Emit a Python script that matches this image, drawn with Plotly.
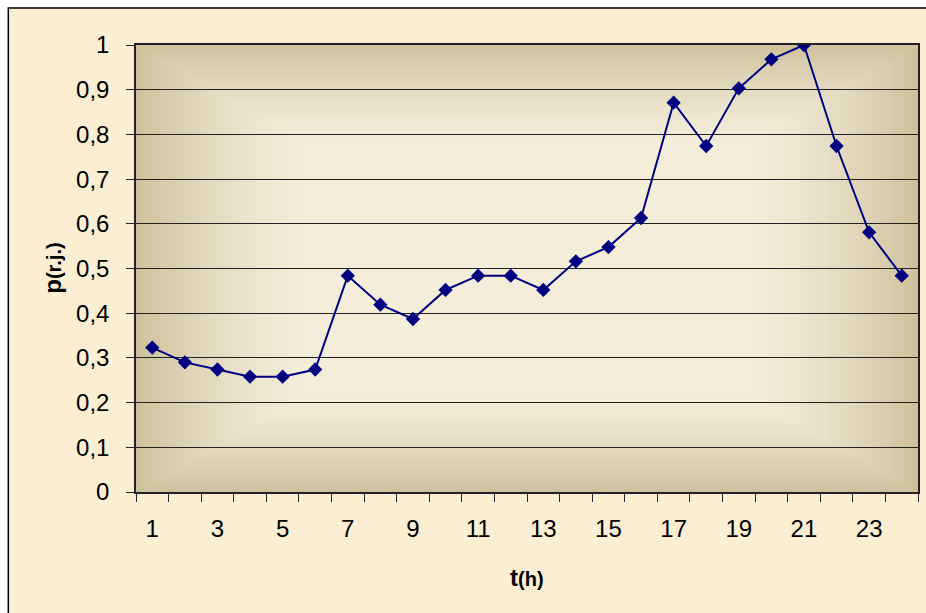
import base64
import struct
import zlib

import numpy as np
import plotly.graph_objects as go

# Hourly values p(r.j.) over the day
hours = list(range(1, 25))
p_values = [0.323, 0.290, 0.274, 0.258, 0.258, 0.274, 0.484, 0.419,
            0.387, 0.452, 0.484, 0.484, 0.452, 0.516, 0.548, 0.613,
            0.871, 0.774, 0.903, 0.968, 1.000, 0.774, 0.581, 0.484]

y_tick_vals = [0, 0.1, 0.2, 0.3, 0.4, 0.5, 0.6, 0.7, 0.8, 0.9, 1.0]
y_tick_text = ["0", "0,1", "0,2", "0,3", "0,4", "0,5", "0,6", "0,7", "0,8", "0,9", "1"]
x_tick_vals = [1, 3, 5, 7, 9, 11, 13, 15, 17, 19, 21, 23]
x_tick_text = [str(v) for v in x_tick_vals]
x_boundaries = [h - 0.5 for h in hours] + [24.5]

W, H = 926, 613
ML, MR, MT, MB = 136, 6, 45, 121
PW, PH = W - ML - MR, H - MT - MB

FONT = "Liberation Sans, Arial, sans-serif"
NAVY = "#000080"


def center_gradient_png(w, h, center, edge):
    """Rectangular 'from centre' fill: light middle fading to tan edges."""
    xs = (np.arange(w) + 0.5) / w * 2 - 1
    ys = (np.arange(h) + 0.5) / h * 2 - 1
    t = np.maximum(np.abs(xs)[None, :], np.abs(ys)[:, None])
    s = np.clip((t - 0.55) / 0.45, 0, 1) ** 1.5
    c = np.array(center, float)
    e = np.array(edge, float)
    img = (c + (e - c) * s[..., None]).round().astype(np.uint8)
    raw = b"".join(b"\x00" + img[r].tobytes() for r in range(h))

    def chunk(tag, data):
        return (struct.pack(">I", len(data)) + tag + data
                + struct.pack(">I", zlib.crc32(tag + data) & 0xFFFFFFFF))

    png = (b"\x89PNG\r\n\x1a\n"
           + chunk(b"IHDR", struct.pack(">IIBBBBB", w, h, 8, 2, 0, 0, 0))
           + chunk(b"IDAT", zlib.compress(raw, 9))
           + chunk(b"IEND", b""))
    return "data:image/png;base64," + base64.b64encode(png).decode()


def px_x(px):
    return (px - ML) / PW


def px_y(py):
    return (H - MB - py) / PH


fig = go.Figure()
fig.add_trace(go.Scatter(
    x=hours, y=p_values, mode="lines+markers",
    line=dict(color=NAVY, width=2),
    marker=dict(symbol="diamond", size=11, color=NAVY),
    hoverinfo="x+y", showlegend=False,
))

fig.update_layout(
    width=W, height=H,
    margin=dict(l=ML, r=MR, t=MT, b=MB, pad=0),
    paper_bgcolor="white",
    plot_bgcolor="#D0C49F",
    font=dict(family=FONT, size=24, color="black"),
    images=[dict(
        source=center_gradient_png(400, 230, (243, 237, 218), (206, 194, 157)),
        xref="x", yref="y", x=0.5, y=1.0, sizex=24, sizey=1.0,
        xanchor="left", yanchor="top", sizing="stretch", layer="below",
    )],
    shapes=[dict(
        type="rect", xref="paper", yref="paper", layer="below",
        x0=px_x(8), x1=px_x(960), y0=px_y(650), y1=px_y(8),
        fillcolor="#FCEED3", line=dict(color="black", width=1.5),
    )],
    annotations=[
        dict(text="<b>p<span style='font-size:20px'>(r.j.)</span></b>",
             xref="paper", yref="paper", x=px_x(52), y=0.5, textangle=-90,
             showarrow=False, font=dict(size=24), xanchor="center", yanchor="middle"),
        dict(text="<b>t<span style='font-size:20px'>(h)</span></b>",
             xref="paper", yref="paper", x=0.5, y=px_y(577),
             showarrow=False, font=dict(size=24), xanchor="center", yanchor="middle"),
    ],
)

fig.update_xaxes(
    range=[0.5, 24.5], tickvals=x_tick_vals, ticktext=x_tick_text,
    ticks="", showgrid=False, zeroline=False,
    showline=True, linecolor="#222222", linewidth=1.5, mirror=True,
    ticklabelstandoff=14,
    minor=dict(tickvals=x_boundaries, ticks="outside", ticklen=8,
               tickcolor="#222222", tickwidth=1, showgrid=False),
)
fig.update_yaxes(
    range=[0, 1], tickvals=y_tick_vals, ticktext=y_tick_text,
    ticks="outside", ticklen=8, tickcolor="#222222", tickwidth=1,
    showgrid=True, gridcolor="#222222", gridwidth=1, zeroline=False,
    showline=True, linecolor="#222222", linewidth=1.5, mirror=True,
    ticklabelstandoff=12,
)

fig.write_html("out.html")
